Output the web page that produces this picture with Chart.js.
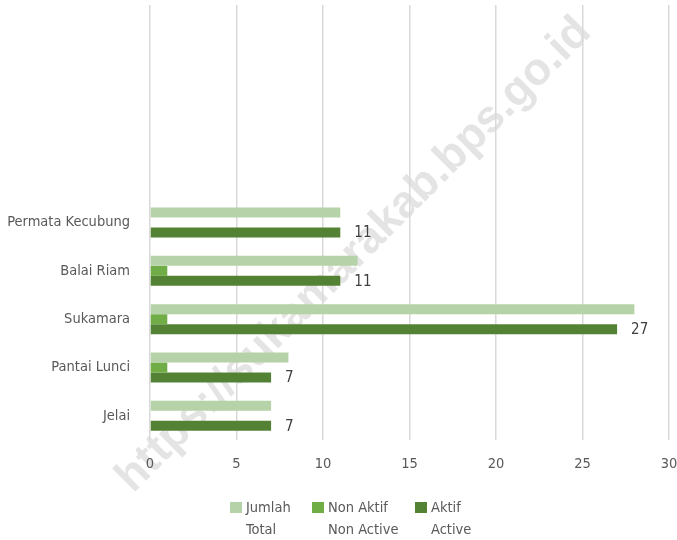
<!DOCTYPE html>
<html><head><meta charset="utf-8">
<script src="https://cdn.jsdelivr.net/npm/chart.js@4"></script>
<style>html,body{margin:0;padding:0;background:#fff}</style>
</head><body>
<canvas id="c" width="677" height="540" style="display:block;width:677px;height:540px"></canvas>
<script>
const categories = ['', '', '', '', 'Permata Kecubung', 'Balai Riam', 'Sukamara', 'Pantai Lunci', 'Jelai'];
const totalValues = [null, null, null, null, 11, 12, 28, 8, 7];
const nonActiveValues = [null, null, null, null, 0, 1, 1, 1, 0];
const activeValues = [null, null, null, null, 11, 11, 27, 7, 7];
const seriesLabels = [['Jumlah', 'Total'], ['Non Aktif', 'Non Active'], ['Aktif', 'Active']];
const xTicks = [0, 5, 10, 15, 20, 25, 30];
const watermarkText = 'https://sukamarakab.bps.go.id';

const FONT = "'DejaVu Sans Condensed', 'Liberation Sans Narrow', sans-serif";

const watermark = {
  id: 'watermark',
  beforeDraw(chart) {
    const ctx = chart.ctx;
    ctx.save();
    ctx.fillStyle = '#ffffff';
    ctx.fillRect(0, 0, chart.width, chart.height);
    ctx.translate(354, 255);
    ctx.rotate(-Math.PI / 4);
    ctx.font = "bold 45px 'Liberation Sans', Arial, sans-serif";
    ctx.fillStyle = '#e4e4e4';
    ctx.textAlign = 'center';
    ctx.textBaseline = 'middle';
    ctx.fillText(watermarkText, 0, 0);
    ctx.restore();
  }
};

const valueLabels = {
  id: 'valueLabels',
  afterDatasetsDraw(chart) {
    const ctx = chart.ctx;
    const meta = chart.getDatasetMeta(2);
    ctx.save();
    ctx.font = "15px " + FONT;
    ctx.fillStyle = '#404040';
    ctx.textAlign = 'left';
    ctx.textBaseline = 'middle';
    meta.data.forEach((el, i) => {
      const v = activeValues[i];
      if (v === null || v === undefined) return;
      ctx.fillText(String(v), el.x + 14, el.y + 1);
    });
    ctx.restore();
  }
};

const customLegend = {
  id: 'customLegend',
  afterDraw(chart) {
    const ctx = chart.ctx;
    const boxX = [230, 312, 415];
    ctx.save();
    ctx.font = "14.5px " + FONT;
    ctx.textBaseline = 'middle';
    ctx.textAlign = 'left';
    chart.data.datasets.forEach((ds, i) => {
      ctx.fillStyle = ds.backgroundColor;
      ctx.fillRect(boxX[i], 502, 12, 11);
      ctx.fillStyle = '#595959';
      ds.label.forEach((line, j) => {
        ctx.fillText(line, boxX[i] + 16, 508 + j * 22);
      });
    });
    ctx.restore();
  }
};

new Chart(document.getElementById('c'), {
  type: 'bar',
  data: {
    labels: categories,
    datasets: [
      { label: seriesLabels[0], data: totalValues, backgroundColor: '#b5d2a9' },
      { label: seriesLabels[1], data: nonActiveValues, backgroundColor: '#70ad47' },
      { label: seriesLabels[2], data: activeValues, backgroundColor: '#548235' }
    ]
  },
  options: {
    indexAxis: 'y',
    responsive: false,
    animation: false,
    devicePixelRatio: 1,
    layout: { padding: { left: 0, right: 8, top: 5, bottom: 64 } },
    datasets: { bar: { barPercentage: 1, categoryPercentage: 0.62, borderWidth: 0 } },
    scales: {
      x: {
        min: 0, max: 30,
        afterBuildTicks(scale) { scale.ticks = xTicks.map(v => ({ value: v })); },
        afterFit(scale) { scale.height = 36; scale.paddingLeft = 0; scale.paddingRight = 0; },
        grid: { color: '#d9d9d9', lineWidth: 1.5, drawTicks: false },
        border: { display: false },
        ticks: { padding: 16, color: '#595959', font: { family: FONT, size: 14.5 } }
      },
      y: {
        afterFit(scale) { scale.width = 150; scale.paddingTop = 0; scale.paddingBottom = 0; },
        grid: { display: false, drawTicks: false },
        border: { display: false },
        ticks: { padding: 20, color: '#595959', font: { family: FONT, size: 14.5 }, autoSkip: false }
      }
    },
    plugins: {
      legend: { display: false },
      tooltip: { enabled: false }
    }
  },
  plugins: [watermark, valueLabels, customLegend]
});
</script>
</body></html>
